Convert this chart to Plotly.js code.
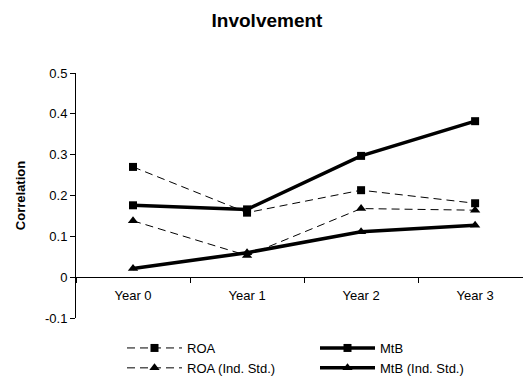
<!DOCTYPE html>
<html>
<head>
<meta charset="utf-8">
<script src="https://cdn.plot.ly/plotly-3.0.1.min.js"></script>
<style>
  html, body { margin: 0; padding: 0; background: #fff; }
  #chart { width: 523px; height: 376px; }
</style>
</head>
<body>
<div id="chart"></div>
<script>
// Correlation by year for each performance measure
const years = ["Year 0", "Year 1", "Year 2", "Year 3"];
const roa = [0.270, 0.158, 0.213, 0.181];
const mtb = [0.176, 0.166, 0.297, 0.382];
const roaIndStd = [0.138, 0.053, 0.168, 0.164];
const mtbIndStd = [0.021, 0.060, 0.111, 0.127];

const yTickVals = [-0.1, 0, 0.1, 0.2, 0.3, 0.4, 0.5];
const yTickText = ["-0.1", "0", "0.1", "0.2", "0.3", "0.4", "0.5"];

const font = "Arial, 'Liberation Sans', sans-serif";

function series(name, y, thick, symbol) {
  return {
    type: "scatter",
    mode: "lines+markers",
    name: name,
    x: years,
    y: y,
    line: thick ? { color: "#000", width: 3.5 } : { color: "#000", width: 1, dash: "8px,5px" },
    marker: { color: "#000", symbol: symbol, size: symbol === "square" ? 8 : 9 },
    cliponaxis: false
  };
}

const traces = [
  series("ROA", roa, false, "square"),
  series("MtB", mtb, true, "square"),
  series("ROA (Ind. Std.)", roaIndStd, false, "triangle-up"),
  series("MtB (Ind. Std.)", mtbIndStd, true, "triangle-up")
];

const layout = {
  width: 523,
  height: 376,
  margin: { l: 76, r: 0, t: 73, b: 58 },
  paper_bgcolor: "#fff",
  plot_bgcolor: "#fff",
  font: { family: font, size: 13, color: "#000" },
  title: {
    text: "<b>Involvement</b>",
    font: { family: font, size: 19, color: "#000" },
    xref: "container", x: 267 / 523, xanchor: "center",
    yref: "container", y: 1 - 20 / 376, yanchor: "middle"
  },
  showlegend: true,
  legend: {
    orientation: "h",
    xref: "container", yref: "container",
    x: 122 / 523, xanchor: "left",
    y: 1 - 333 / 376, yanchor: "top",
    itemwidth: 55,
    entrywidth: 123,
    font: { family: font, size: 13, color: "#000" },
    tracegroupgap: 0
  },
  xaxis: {
    type: "category",
    range: [-0.5, 3.42],
    anchor: "free",
    position: 1 / 6,
    showline: true, linecolor: "#000", linewidth: 1,
    showgrid: false, zeroline: false,
    ticks: "outside", tickson: "boundaries", ticklen: 5, tickcolor: "#000",
    ticklabelstandoff: 6,
    tickfont: { family: font, size: 13, color: "#000" },
    fixedrange: true
  },
  yaxis: {
    range: [-0.1, 0.5],
    tickvals: yTickVals,
    ticktext: yTickText,
    showline: true, linecolor: "#000", linewidth: 1,
    showgrid: false, zeroline: false,
    ticks: "outside", ticklen: 5, tickcolor: "#000",
    tickfont: { family: font, size: 13, color: "#000" },
    title: { text: "<b>Correlation</b>", font: { family: font, size: 13, color: "#000" }, standoff: 16 },
    fixedrange: true
  }
};

Plotly.newPlot("chart", traces, layout, { displayModeBar: false, staticPlot: true });
</script>
</body>
</html>
